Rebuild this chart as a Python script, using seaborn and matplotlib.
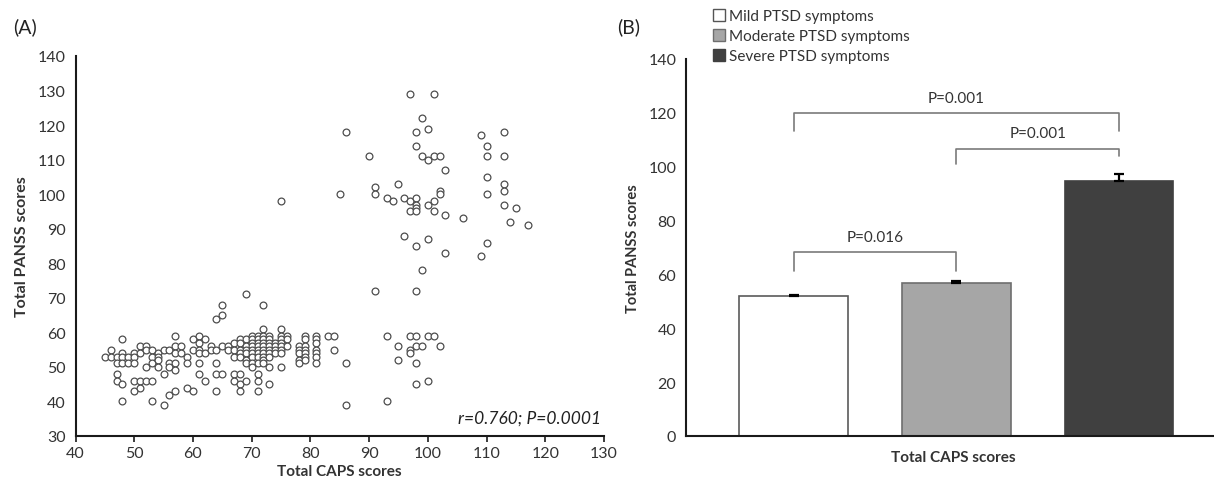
import matplotlib
matplotlib.use("Agg")
import matplotlib.pyplot as plt
from matplotlib.lines import Line2D
import seaborn as sns
import pandas as pd

# ---- Panel A: individual patients (CAPS vs PANSS totals) ----
caps_scores = [
    45,
    46, 46,
    47, 47, 47, 47,
    48, 48, 48, 48, 48, 48,
    49, 49,
    50, 50, 50, 50, 50,
    51, 51, 51, 51,
    52, 52, 52, 52,
    53, 53, 53, 53, 53,
    54, 54, 54, 54,
    55, 55, 55,
    56, 56, 56, 56,
    57, 57, 57, 57, 57, 57,
    58, 58,
    59, 59, 59,
    60, 60, 60,
    61, 61, 61, 61, 61, 61,
    62, 62, 62,
    63, 63,
    64, 64, 64, 64, 64,
    65, 65, 65, 65,
    66, 66,
    67, 67, 67, 67, 67,
    68, 68, 68, 68, 68, 68, 68, 68,
    69, 69, 69, 69, 69, 69, 69, 69,
    70, 70, 70, 70, 70, 70, 70, 70, 70,
    71, 71, 71, 71, 71, 71, 71, 71, 71, 71, 71,
    72, 72, 72, 72, 72, 72, 72, 72, 72, 72, 72,
    73, 73, 73, 73, 73, 73, 73, 73, 73,
    74, 74, 74, 74,
    75, 75, 75, 75, 75, 75, 75, 75, 75,
    76, 76, 76,
    78, 78, 78, 78, 78,
    79, 79, 79, 79, 79, 79, 79,
    81, 81, 81, 81, 81, 81, 81,
    83,
    84, 84,
    85,
    86, 86, 86,
    90,
    91, 91, 91,
    93, 93, 93,
    94,
    95, 95, 95,
    96, 96,
    97, 97, 97, 97, 97, 97,
    98, 98, 98, 98, 98, 98, 98, 98, 98, 98, 98, 98,
    99, 99, 99, 99,
    100, 100, 100, 100, 100, 100,
    101, 101, 101, 101, 101,
    102, 102, 102, 102,
    103, 103, 103,
    106,
    109, 109,
    110, 110, 110, 110, 110,
    113, 113, 113, 113, 113,
    114,
    115,
    117,
]
panss_scores = [
    53,
    55, 53,
    53, 51, 48, 46,
    58, 54, 53, 51, 45, 40,
    53, 51,
    54, 53, 51, 46, 43,
    56, 54, 46, 44,
    56, 55, 50, 46,
    55, 53, 51, 46, 40,
    54, 53, 52, 50,
    55, 48, 39,
    55, 51, 50, 42,
    59, 56, 54, 51, 49, 43,
    56, 54,
    53, 51, 44,
    58, 55, 43,
    59, 57, 55, 54, 51, 48,
    58, 54, 46,
    56, 55,
    64, 55, 51, 48, 43,
    68, 65, 56, 48,
    56, 55,
    57, 55, 53, 48, 46,
    58, 57, 55, 54, 53, 48, 45, 43,
    71, 58, 56, 55, 54, 52, 51, 46,
    59, 58, 57, 56, 55, 54, 53, 51, 50,
    59, 58, 57, 56, 55, 54, 53, 51, 48, 46, 43,
    68, 61, 59, 58, 57, 56, 55, 54, 53, 52, 51,
    59, 58, 57, 56, 55, 54, 53, 50, 45,
    57, 56, 55, 54,
    98, 61, 59, 58, 57, 56, 55, 54, 50,
    59, 58, 56,
    56, 55, 54, 52, 51,
    59, 58, 56, 55, 54, 53, 52,
    59, 58, 57, 55, 54, 53, 51,
    59,
    59, 55,
    100,
    118, 51, 39,
    111,
    102, 100, 72,
    99, 59, 40,
    98,
    103, 56, 52,
    99, 88,
    129, 98, 95, 59, 55, 54,
    118, 114, 99, 97, 96, 95, 72, 59, 56, 51, 45, 85,
    122, 111, 78, 56,
    119, 110, 97, 87, 59, 46,
    129, 111, 98, 95, 59,
    111, 101, 100, 56,
    107, 94, 83,
    93,
    117, 82,
    114, 111, 105, 100, 86,
    118, 111, 103, 101, 97,
    92,
    96,
    91,
]

# ---- Panel B: group means with SEM ----
groups = ["Mild PTSD symptoms", "Moderate PTSD symptoms", "Severe PTSD symptoms"]
group_means = [52.1, 56.7, 94.7]
group_sem = [0.4, 0.7, 2.6]
bar_fill = ["#ffffff", "#a6a6a6", "#404040"]
bar_edge = ["#5a5a5a", "#6e6e6e", "#404040"]

# significance brackets: (left bar, right bar, bracket top, left leg end, right leg end, label)
bracket_pairs = [(0, 1), (1, 2), (0, 2)]
bracket_tops = [68.2, 106.7, 119.8]
bracket_left_ends = [61.4, 101.0, 113.4]
bracket_right_ends = [61.4, 104.0, 113.4]
bracket_labels = ["P=0.016", "P=0.001", "P=0.001"]
bracket_label_x = [0.5, 1.5, 1.0]

sns.set_style("white")
plt.rcParams["font.family"] = ["Lato", "DejaVu Sans"]
text_col = "#333333"

fig = plt.figure(figsize=(12.14, 4.85), dpi=100)
ax_a = fig.add_axes([0.0622, 0.099, 0.4353, 0.7835])
ax_b = fig.add_axes([0.565, 0.099, 0.44, 0.7773])

# Panel A scatter
df_a = pd.DataFrame({"caps": caps_scores, "panss": panss_scores})
sns.scatterplot(data=df_a, x="caps", y="panss", ax=ax_a, s=24,
                facecolor="white", edgecolor="#4d4d4d", linewidth=0.9)
ax_a.set_xlim(40, 130)
ax_a.set_ylim(30, 140)
ax_a.set_xticks(range(40, 131, 10))
ax_a.set_yticks(range(30, 141, 10))
ax_a.set_xlabel("Total CAPS scores", fontsize=11, fontweight="bold", color=text_col, labelpad=3)
ax_a.set_ylabel("Total PANSS scores", fontsize=11.5, fontweight="bold", color=text_col, labelpad=6)
ax_a.text(129.5, 34, "r=0.760; P=0.0001", style="italic", fontsize=12.5,
          ha="right", va="baseline", color="#222222")

# Panel B bars
df_b = pd.DataFrame({"group": groups, "mean": group_means})
sns.barplot(data=df_b, x="group", y="mean", hue="group", palette=bar_fill,
            dodge=False, legend=False, width=0.666, ax=ax_b, linewidth=1.2,
            edgecolor="#555555")
for patch, ec in zip(ax_b.patches, bar_edge):
    patch.set_edgecolor(ec)
ax_b.errorbar(range(len(groups)), group_means,
              yerr=[[0] * len(groups), group_sem], fmt="none",
              ecolor="black", elinewidth=1.6, capsize=3.5, capthick=1.6, zorder=5)

for (i, j), top, le, re, lab, lx in zip(bracket_pairs, bracket_tops, bracket_left_ends,
                                        bracket_right_ends, bracket_labels, bracket_label_x):
    ax_b.plot([i, i, j, j], [le, top, top, re], color="#7a7a7a", lw=1.2,
              solid_joinstyle="round")
    ax_b.text(lx, top + 3.2, lab, ha="center", va="bottom", fontsize=11, color=text_col)

ax_b.set_xlim(-0.662, 2.62)
ax_b.set_ylim(0, 140)
ax_b.set_yticks(range(0, 141, 20))
ax_b.set_xticks([])
ax_b.set_xlabel("Total CAPS scores", fontsize=11, fontweight="bold", color=text_col, labelpad=10)
ax_b.set_ylabel("Total PANSS scores", fontsize=10.5, fontweight="bold", color=text_col, labelpad=6)

for ax in (ax_a, ax_b):
    sns.despine(ax=ax)
    for side in ("left", "bottom"):
        ax.spines[side].set_color("#1a1a1a")
        ax.spines[side].set_linewidth(1.5)
    ax.tick_params(axis="both", which="both", direction="out", length=4, width=1.2,
                   color="#1a1a1a", labelsize=11.5, labelcolor=text_col, pad=3)
    ax.tick_params(axis="x", bottom=True)
ax_b.tick_params(axis="x", bottom=False)

# Legend for the group colours
handles = [Line2D([0], [0], marker="s", linestyle="none", markersize=8,
                  markerfacecolor=fc, markeredgecolor=ec, markeredgewidth=1)
           for fc, ec in zip(bar_fill, ["#555555", "#6e6e6e", "#404040"])]
fig.legend(handles, groups, loc="upper left", bbox_to_anchor=(711 / 1214, 1 - 10 / 485),
           frameon=False, fontsize=11, labelspacing=0.4, handletextpad=0.2,
           borderaxespad=0, borderpad=0, handlelength=1.0, labelcolor=text_col)

fig.text(13 / 1214, 1 - 27 / 485, "(A)", fontsize=14, va="center", ha="left", color="#222222")
fig.text(617 / 1214, 1 - 27 / 485, "(B)", fontsize=14, va="center", ha="left", color="#222222")

fig.savefig("out.png", dpi=100, facecolor="white")
